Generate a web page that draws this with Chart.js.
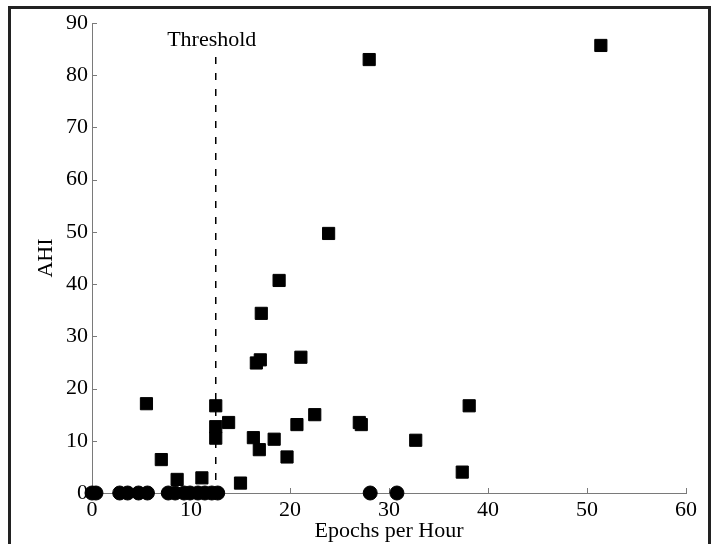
<!DOCTYPE html>
<html>
<head>
<meta charset="utf-8">
<script src="https://cdn.jsdelivr.net/npm/chart.js@4.4.1/dist/chart.umd.min.js"></script>
<style>
  html, body { margin: 0; padding: 0; background: #fff; }
  #wrap { position: relative; width: 715px; height: 544px; overflow: hidden; }
  #frame { position: absolute; left: 8px; top: 6px; width: 703px; height: 600px; border: 3px solid #222; box-sizing: border-box; pointer-events: none; }
  canvas { position: absolute; left: 0; top: 0; }
</style>
</head>
<body>
<div id="wrap">
  <canvas id="c" width="715" height="544"></canvas>
  <div id="frame"></div>
</div>
<script>
// Squares: subjects with AHI > 0 (x = epochs per hour, y = AHI)
const squareX = [5.5, 7.0, 8.6, 11.1, 12.5, 12.5, 12.5, 13.8, 15.0, 16.3, 16.9, 16.6, 17.0, 17.1, 18.4, 18.9, 19.7, 20.7, 21.1, 22.5, 23.9, 27.0, 27.2, 28.0, 32.7, 37.4, 38.1, 51.4];
const squareY = [17.1, 6.4, 2.6, 2.9, 16.7, 12.7, 10.5, 13.5, 1.9, 10.6, 8.3, 24.9, 25.5, 34.4, 10.3, 40.7, 6.9, 13.1, 26.0, 15.0, 49.7, 13.5, 13.1, 83.0, 10.1, 4.0, 16.7, 85.7];
// Circles: subjects with AHI = 0
const circleX = [0.0, 0.4, 2.8, 3.6, 4.7, 5.6, 7.7, 8.4, 9.3, 9.9, 10.7, 11.4, 12.1, 12.7, 28.1, 30.8];
const circleY = [0, 0, 0, 0, 0, 0, 0, 0, 0, 0, 0, 0, 0, 0, 0, 0];
// Threshold line
const thresholdX = 12.5;
const thresholdLineY = [83.5, 0];
const thresholdLabel = 'Threshold';
// Axes
const xTicks = [0, 10, 20, 30, 40, 50, 60];
const yTicks = [0, 10, 20, 30, 40, 50, 60, 70, 80, 90];
const xTitle = 'Epochs per Hour';
const yTitle = 'AHI';

const FONT = 'Liberation Serif, Times New Roman, serif';
const AXIS = '#7a7a7a';

const squares = squareX.map((x, i) => ({x, y: squareY[i]}));
const circles = circleX.map((x, i) => ({x, y: circleY[i]}));
const threshLine = thresholdLineY.map(y => ({x: thresholdX, y}));

const extras = {
  id: 'extras',
  beforeDatasetsDraw(chart) {
    const {ctx, scales: {x, y}} = chart;
    ctx.save();
    ctx.strokeStyle = AXIS;
    ctx.lineWidth = 1;
    ctx.beginPath();
    xTicks.forEach(v => {
      const px = Math.round(x.getPixelForValue(v)) + 0.5;
      ctx.moveTo(px, y.bottom);
      ctx.lineTo(px, y.bottom - 5);
    });
    yTicks.forEach(v => {
      const py = Math.round(y.getPixelForValue(v)) + 0.5;
      ctx.moveTo(x.left, py);
      ctx.lineTo(x.left + 5, py);
    });
    ctx.stroke();
    ctx.restore();
  },
  afterDatasetsDraw(chart) {
    const {ctx, scales: {x, y}} = chart;
    ctx.save();
    ctx.fillStyle = '#000';
    ctx.font = '22px ' + FONT;
    ctx.textAlign = 'center';
    ctx.textBaseline = 'alphabetic';
    ctx.fillText(thresholdLabel, x.getPixelForValue(thresholdX) - 4, y.getPixelForValue(thresholdLineY[0]) - 11);
    ctx.restore();
  }
};

new Chart(document.getElementById('c'), {
  type: 'scatter',
  data: {
    datasets: [
      {
        type: 'line',
        data: threshLine,
        borderColor: '#000',
        borderWidth: 1.5,
        borderDash: [7, 9],
        pointRadius: 0,
        fill: false,
        showLine: true
      },
      {
        data: circles,
        pointStyle: 'circle',
        pointRadius: 7,
        pointBorderWidth: 1,
        backgroundColor: '#000',
        borderColor: '#000',
        clip: false
      },
      {
        data: squares,
        pointStyle: 'rect',
        pointRadius: 8.6,
        pointBorderWidth: 1,
        backgroundColor: '#000',
        borderColor: '#000',
        clip: false
      }
    ]
  },
  options: {
    responsive: false,
    animation: false,
    devicePixelRatio: 1,
    layout: { padding: { top: 23, right: 29, left: 0, bottom: 0 } },
    plugins: { legend: { display: false }, tooltip: { enabled: false } },
    scales: {
      x: {
        type: 'linear',
        min: 0, max: 60,
        afterFit(s) { s.height = 51; },
        afterBuildTicks(s) { s.ticks = xTicks.map(v => ({value: v})); },
        grid: { display: false, drawTicks: false, tickLength: 0 },
        border: { display: true, color: AXIS, width: 1 },
        ticks: { color: '#000', padding: 4, font: { family: FONT, size: 22 } },
        title: { display: true, text: xTitle, color: '#000', padding: { top: 0, bottom: 0 }, font: { family: FONT, size: 22 } }
      },
      y: {
        type: 'linear',
        min: 0, max: 90,
        afterFit(s) { s.width = 92; },
        afterBuildTicks(s) { s.ticks = yTicks.map(v => ({value: v})); },
        grid: { display: false, drawTicks: false, tickLength: 0 },
        border: { display: true, color: AXIS, width: 1 },
        ticks: { color: '#000', padding: 4, font: { family: FONT, size: 22 } },
        title: { display: true, text: yTitle, color: '#000', padding: { top: 33, bottom: 0 }, font: { family: FONT, size: 22 } }
      }
    }
  },
  plugins: [extras]
});
</script>
</body>
</html>
